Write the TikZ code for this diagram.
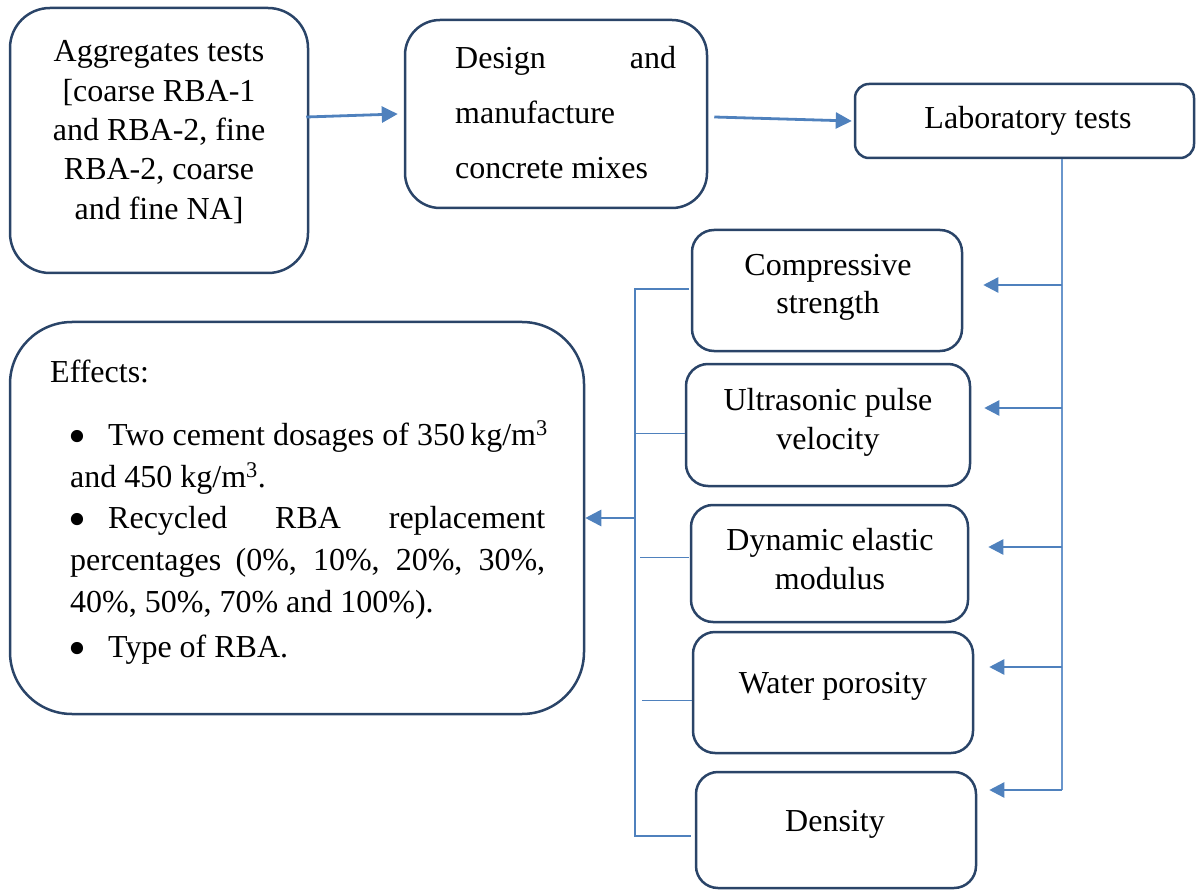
\documentclass[tikz,border=0pt]{standalone}
\usepackage{fontspec}
\setmainfont{Liberation Serif}
\usetikzlibrary{arrows.meta,calc}
\definecolor{boxc}{HTML}{2A4468}
\definecolor{linec}{HTML}{4F81BD}
\definecolor{busc}{HTML}{6A96CC}
\newcommand{\bigbul}{\makebox[38pt][l]{\hspace{-2pt}\raisebox{-8.5pt}{\scalebox{1.6}{\textbullet}}}}
\begin{document}
\begin{tikzpicture}[x=1pt,y=-1pt,
  box/.style={draw=boxc, line width=2.5pt, rounded corners=#1, inner sep=0pt},
  box/.default=30pt,
  txt/.style={font=\fontsize{32}{40}\selectfont, inner sep=0pt, anchor=base},
  txtl/.style={txt, anchor=base west},
  arr/.style={draw=linec, line width=2.8pt, -{Triangle[length=16pt,width=16pt]}},
  arrb/.style={draw=linec, line width=2.4pt, -{Triangle[length=15pt,width=15pt]}},
  bus/.style={draw=busc, line width=1.5pt},
  brk/.style={draw=linec, line width=2.4pt},
  thinl/.style={draw=linec, line width=1pt}]
\useasboundingbox (0,0) rectangle (1196,890);

% boxes
\node[box=40pt, minimum width=298pt, minimum height=265pt] (agg) at (159,140.5) {};
\node[box=35pt, minimum width=302pt, minimum height=188pt] (des) at (556,114) {};
\node[box=14pt, minimum width=339pt, minimum height=74pt] (lab) at (1024.5,121) {};
\node[box=22pt, minimum width=270pt, minimum height=121pt] (cs) at (827,290.5) {};
\node[box=22pt, minimum width=284pt, minimum height=122pt] (up) at (828,425) {};
\node[box=22pt, minimum width=277pt, minimum height=117pt] (de) at (829.5,563.5) {};
\node[box=22pt, minimum width=280pt, minimum height=121pt] (wp) at (833,692.5) {};
\node[box=22pt, minimum width=280pt, minimum height=116pt] (dn) at (836,830) {};
\node[box=62pt, minimum width=574pt, minimum height=392pt] (eff) at (297,518) {};

% texts
\node[txt] (a1) at (159,62) {Aggregates tests};
\node[txt] (a2) at (159,102) {[coarse RBA-1};
\node[txt] (a3) at (159,141) {and RBA-2, fine};
\node[txt] (a4) at (159,180) {RBA-2, coarse};
\node[txt] (a5) at (159,220) {and fine NA]};

\node[txtl] (d1) at (455,69) {\makebox[221pt][s]{Design and}};
\node[txtl] (d2) at (455,124) {manufacture};
\node[txtl] (d3) at (455,179) {concrete mixes};

\node[txt] (l1) at (1028,129) {Laboratory tests};

\node[txt] (c1) at (828,276) {Compressive};
\node[txt] (c2) at (828,314) {strength};
\node[txt] (u1) at (828,410) {Ultrasonic pulse};
\node[txt] (u2) at (828,449) {velocity};
\node[txt] (e1) at (830,550) {Dynamic elastic};
\node[txt] (e2) at (830,589) {modulus};
\node[txt] (w1) at (833,693) {Water porosity};
\node[txt] (n1) at (835,831) {Density};

\node[txtl] (f0) at (50,382) {Effects:};
\node[txtl] (f1) at (70,445) {\bigbul Two cement dosages of 350\,kg/m\textsuperscript{3}};
\node[txtl] (f2) at (70,487) {and 450 kg/m\textsuperscript{3}.};
\node[txtl] (f3) at (70,528) {\bigbul\makebox[437pt][s]{Recycled RBA replacement}};
\node[txtl] (f4) at (70,570) {\makebox[475pt][s]{percentages (0\%, 10\%, 20\%, 30\%,}};
\node[txtl] (f5) at (70,612) {40\%, 50\%, 70\% and 100\%).};
\node[txtl] (f6) at (70,657) {\bigbul Type of RBA.};

% top connectors
\draw[arr] ($(agg.east)+(-3,-23.5)$) -- ($(des.west)+(-6,0)$);
\draw[arr] ($(des.east)+(6,3)$) -- ($(lab.west)+(-2,0)$);

% right bus
\coordinate (bt) at ($(lab.south)+(37.5,0)$);
\coordinate (bb) at (1062,790);
\draw[bus] (bt) -- (bb);
\coordinate (r1) at (1062,285);
\coordinate (r2) at (1062,408);
\coordinate (r3) at (1062,547);
\coordinate (r4) at (1062,667);
\draw[arrb] (r1) -- ($(r1 -| cs.east)+(20,0)$);
\draw[arrb] (r2) -- ($(r2 -| up.east)+(13,0)$);
\draw[arrb] (r3) -- ($(r3 -| de.east)+(19,0)$);
\draw[arrb] (r4) -- ($(r4 -| wp.east)+(15,0)$);
\draw[arrb] (bb) -- ($(bb -| dn.east)+(12,0)$);

% left bracket
\coordinate (kt) at (635,289);
\coordinate (kb) at (635,836);
\coordinate (km) at (635,518);
\draw[brk] ($(cs.west)+(-2,-1.5)$) -- (kt) -- (kb) -- ($(dn.west)+(-4,6)$);
\draw[thinl] (635,433) -- ($(up.west)+(0,8)$);
\draw[thinl] (640,557) -- ($(de.west)+(-1,-6.5)$);
\draw[thinl] (642,700) -- ($(wp.west)+(0,7.5)$);
\draw[arr] (km) -- (eff.east);
\end{tikzpicture}
\end{document}
